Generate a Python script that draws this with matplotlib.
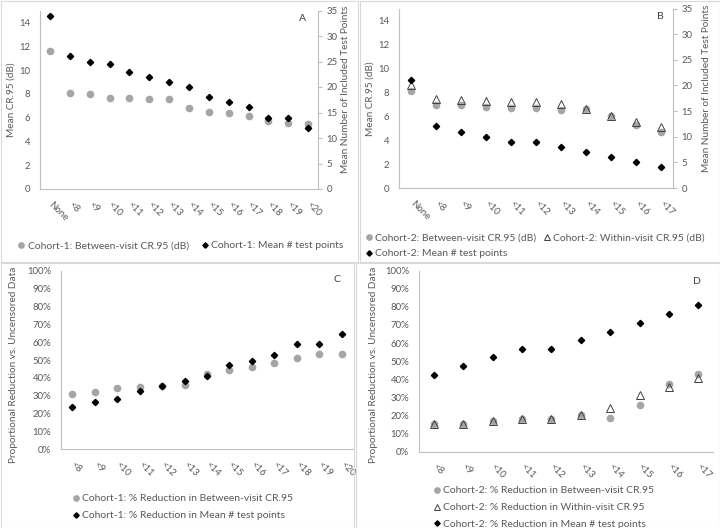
import matplotlib
matplotlib.use('Agg')
import matplotlib.pyplot as plt
from matplotlib.ticker import PercentFormatter, MultipleLocator
from matplotlib.patches import Rectangle
from matplotlib.textpath import TextToPath
from matplotlib.font_manager import FontProperties

# ── DATA ─────────────────────────────────────────────────────────
cats_c1 = ['None', '<8', '<9', '<10', '<11', '<12', '<13', '<14',
           '<15', '<16', '<17', '<18', '<19', '<20']
c1_between = [11.62, 8.10, 7.96, 7.65, 7.65, 7.59, 7.54, 6.84,
              6.50, 6.39, 6.11, 5.75, 5.52, 5.50]
c1_points = [34, 26, 25, 24.6, 23, 22, 21, 20, 18, 17, 16, 14, 14, 12]

cats_c2 = ['None', '<8', '<9', '<10', '<11', '<12', '<13', '<14',
           '<15', '<16', '<17']
c2_between = [8.10, 6.91, 6.91, 6.77, 6.69, 6.69, 6.52, 6.60, 6.03, 5.23, 4.68]
c2_within = [8.62, 7.43, 7.38, 7.27, 7.16, 7.19, 7.02, 6.63, 6.03, 5.53, 5.09]
c2_points = [21, 12, 11, 10, 9, 9, 8, 7, 6, 5, 4]

cats_c1_red = cats_c1[1:]
c1_red_between = [31.1, 32.0, 34.6, 35.0, 35.4, 36.1, 41.9, 44.3,
                  46.0, 48.2, 51.0, 53.3, 53.6]
c1_red_points = [23.5, 26.5, 28.0, 32.4, 35.2, 38.2, 41.0, 47.1,
                 49.7, 52.7, 59.0, 59.0, 64.6]

cats_c2_red = cats_c2[1:]
c2_red_between = [15.1, 15.1, 16.8, 18.0, 18.0, 20.3, 18.8, 25.8, 37.4, 42.8]
c2_red_within = [15.1, 15.1, 16.8, 18.2, 18.2, 20.4, 24.1, 31.3, 35.9, 40.6]
c2_red_points = [42.5, 47.3, 52.2, 56.9, 56.9, 61.8, 66.4, 71.3, 76.0, 80.8]

# ── STYLE ────────────────────────────────────────────────────────
FONT = 'Lato'
plt.rcParams['font.family'] = [FONT, 'DejaVu Sans']
TXT = '#595959'
SPINE = '#bfbfbf'
GRAY = '#a5a5a5'
W, H = 720, 528
_ttp = TextToPath()


def fit_size(s, px):
    # font size (pt) that makes string s about px pixels wide at 100 dpi
    w = _ttp.get_text_width_height_descent(s, FontProperties(family=FONT, size=10),
                                           ismath=False)[0]
    return 10 * px / (w * 100 / 72)


FS = fit_size('100%', 24.5)
LEG_FS = fit_size('Cohort-1: Between-visit CR.95 (dB)', 161)
LFS = fit_size('Proportional Reduction vs. Uncensored Data', 197)
RFS = fit_size('Mean Number of Included Test Points', 167)

fig = plt.figure(figsize=(7.2, 5.28), dpi=100)
fig.patch.set_facecolor('white')


def px_axes(x0, y0, x1, y1):
    return fig.add_axes([x0 / W, 1 - y1 / H, (x1 - x0) / W, (y1 - y0) / H])


def panel_border(x0, y0, x1, y1):
    fig.add_artist(Rectangle((x0 / W, 1 - y1 / H), (x1 - x0) / W, (y1 - y0) / H,
                             transform=fig.transFigure, fill=False,
                             edgecolor='#d9d9d9', linewidth=0.8))


def place_label(axis, x, y):
    axis.set_label_coords(x, y)
    axis.label.set_verticalalignment('center')


def style_axes(ax, cats):
    n = len(cats)
    ax.set_xlim(-0.5, n - 0.5)
    ax.set_xticks(range(n))
    ax.set_xticklabels(cats, rotation=-45, ha='left', va='center',
                       rotation_mode='anchor', fontsize=FS, color=TXT)
    ax.tick_params(axis='x', length=0, pad=10)
    ax.tick_params(axis='y', length=0, labelsize=FS, labelcolor=TXT, pad=7)
    for side in ['top', 'right']:
        ax.spines[side].set_visible(False)
    for side in ['left', 'bottom']:
        ax.spines[side].set_color(SPINE)
        ax.spines[side].set_linewidth(0.8)


def right_axis(ax, ylabel):
    ax2 = ax.twinx()
    ax2.set_ylim(0, 35)
    ax2.yaxis.set_major_locator(MultipleLocator(5))
    for side in ['top', 'left', 'bottom']:
        ax2.spines[side].set_visible(False)
    ax2.spines['right'].set_color(SPINE)
    ax2.spines['right'].set_linewidth(0.8)
    ax2.tick_params(axis='y', length=3, color=SPINE, labelsize=FS,
                    labelcolor=TXT, pad=3)
    ax2.set_ylabel(ylabel, fontsize=RFS, color=TXT)
    return ax2


circ = dict(marker='o', linestyle='none', markersize=4.5, color=GRAY,
            markeredgecolor=GRAY)
diam = dict(marker='D', linestyle='none', markersize=3.2, color='black')
tri = dict(marker='^', linestyle='none', markersize=5.2,
           markerfacecolor='none', markeredgecolor='#404040',
           markeredgewidth=0.7)
leg_kw = dict(frameon=False, fontsize=LEG_FS, handlelength=0.5,
              handletextpad=0.35, markerscale=0.85, labelcolor=TXT,
              borderpad=0, borderaxespad=0)

# ── PANEL A ──────────────────────────────────────────────────────
panel_border(0.5, 0.5, 358, 262)
axA = px_axes(40, 10.5, 318, 189)
style_axes(axA, cats_c1)
axA.set_ylim(0, 15)
axA.set_yticks(range(0, 15, 2))
axA.set_ylabel('Mean CR.95 (dB)', fontsize=RFS, color=TXT)
place_label(axA.yaxis, -0.104, 0.5)
hA1, = axA.plot(range(len(cats_c1)), c1_between, **circ,
                label='Cohort-1: Between-visit CR.95 (dB)')
axA2 = right_axis(axA, 'Mean Number of Included Test Points')
place_label(axA2.yaxis, 1.10, 0.56)
hA2, = axA2.plot(range(len(cats_c1)), c1_points, **diam,
                 label='Cohort-1: Mean # test points')
axA2.text(0.945, 0.955, 'A', transform=axA.transAxes, fontsize=FS + 0.5,
          color='#404040', ha='center', va='center')
fig.legend(handles=[hA1, hA2], loc='center', bbox_to_anchor=(181 / W, 1 - 245.7 / H),
           ncol=2, columnspacing=1.3, **leg_kw)

# ── PANEL B ──────────────────────────────────────────────────────
panel_border(360, 0.5, 719.5, 262)
axB = px_axes(399, 8.5, 673, 188)
style_axes(axB, cats_c2)
axB.set_ylim(0, 15)
axB.set_yticks(range(0, 15, 2))
axB.set_ylabel('Mean CR.95 (dB)', fontsize=RFS, color=TXT)
place_label(axB.yaxis, -0.106, 0.5)
hB1, = axB.plot(range(len(cats_c2)), c2_between, **circ,
                label='Cohort-2: Between-visit CR.95 (dB)')
hB2, = axB.plot(range(len(cats_c2)), c2_within, **tri,
                label='Cohort-2: Within-visit CR.95 (dB)')
axB2 = right_axis(axB, 'Mean Number of Included Test Points')
place_label(axB2.yaxis, 1.123, 0.555)
hB3, = axB2.plot(range(len(cats_c2)), c2_points, **diam,
                 label='Cohort-2: Mean # test points')
axB.text(0.955, 0.955, 'B', transform=axB.transAxes, fontsize=FS + 0.5,
         color='#404040', ha='center', va='center')
fig.legend(handles=[hB1, hB3, hB2], loc='upper left',
           bbox_to_anchor=(366 / W, 1 - 233 / H),
           ncol=2, columnspacing=0.8, labelspacing=0.65, **leg_kw)

# ── PANEL C ──────────────────────────────────────────────────────
panel_border(0.5, 263, 354, 527.5)
axC = px_axes(61, 270.7, 353, 449.3)
style_axes(axC, cats_c1_red)
axC.set_ylim(0, 100)
axC.yaxis.set_major_locator(MultipleLocator(10))
axC.yaxis.set_major_formatter(PercentFormatter(100, decimals=0))
axC.set_ylabel('Proportional Reduction vs. Uncensored Data', fontsize=LFS,
               color=TXT)
place_label(axC.yaxis, -0.163, 0.475)
hC1, = axC.plot(range(len(cats_c1_red)), c1_red_between, **circ,
                label='Cohort-1: % Reduction in Between-visit CR.95')
hC2, = axC.plot(range(len(cats_c1_red)), c1_red_points, **diam,
                label='Cohort-1: % Reduction in Mean # test points')
axC.text(0.945, 0.95, 'C', transform=axC.transAxes, fontsize=FS + 0.5,
         color='#404040', ha='center', va='center')
fig.legend(handles=[hC1, hC2], loc='upper left',
           bbox_to_anchor=(73 / W, 1 - 494 / H),
           ncol=1, labelspacing=0.74, **leg_kw)

# ── PANEL D ──────────────────────────────────────────────────────
panel_border(356, 263, 719.5, 527.5)
axD = px_axes(419, 270.7, 713, 451.7)
style_axes(axD, cats_c2_red)
axD.set_ylim(0, 100)
axD.yaxis.set_major_locator(MultipleLocator(10))
axD.yaxis.set_major_formatter(PercentFormatter(100, decimals=0))
axD.set_ylabel('Proportional Reduction vs. Uncensored Data', fontsize=LFS,
               color=TXT)
place_label(axD.yaxis, -0.155, 0.48)
hD1, = axD.plot(range(len(cats_c2_red)), c2_red_between, **circ,
                label='Cohort-2: % Reduction in Between-visit CR.95')
hD2, = axD.plot(range(len(cats_c2_red)), c2_red_within, **tri,
                label='Cohort-2: % Reduction in Within-visit CR.95')
hD3, = axD.plot(range(len(cats_c2_red)), c2_red_points, **diam,
                label='Cohort-2: % Reduction in Mean # test points')
axD.text(0.945, 0.94, 'D', transform=axD.transAxes, fontsize=FS + 0.5,
         color='#404040', ha='center', va='center')
fig.legend(handles=[hD1, hD2, hD3], loc='upper left',
           bbox_to_anchor=(434 / W, 1 - 486 / H),
           ncol=1, labelspacing=0.74, **leg_kw)

fig.savefig('out.png', dpi=100, facecolor='white')
